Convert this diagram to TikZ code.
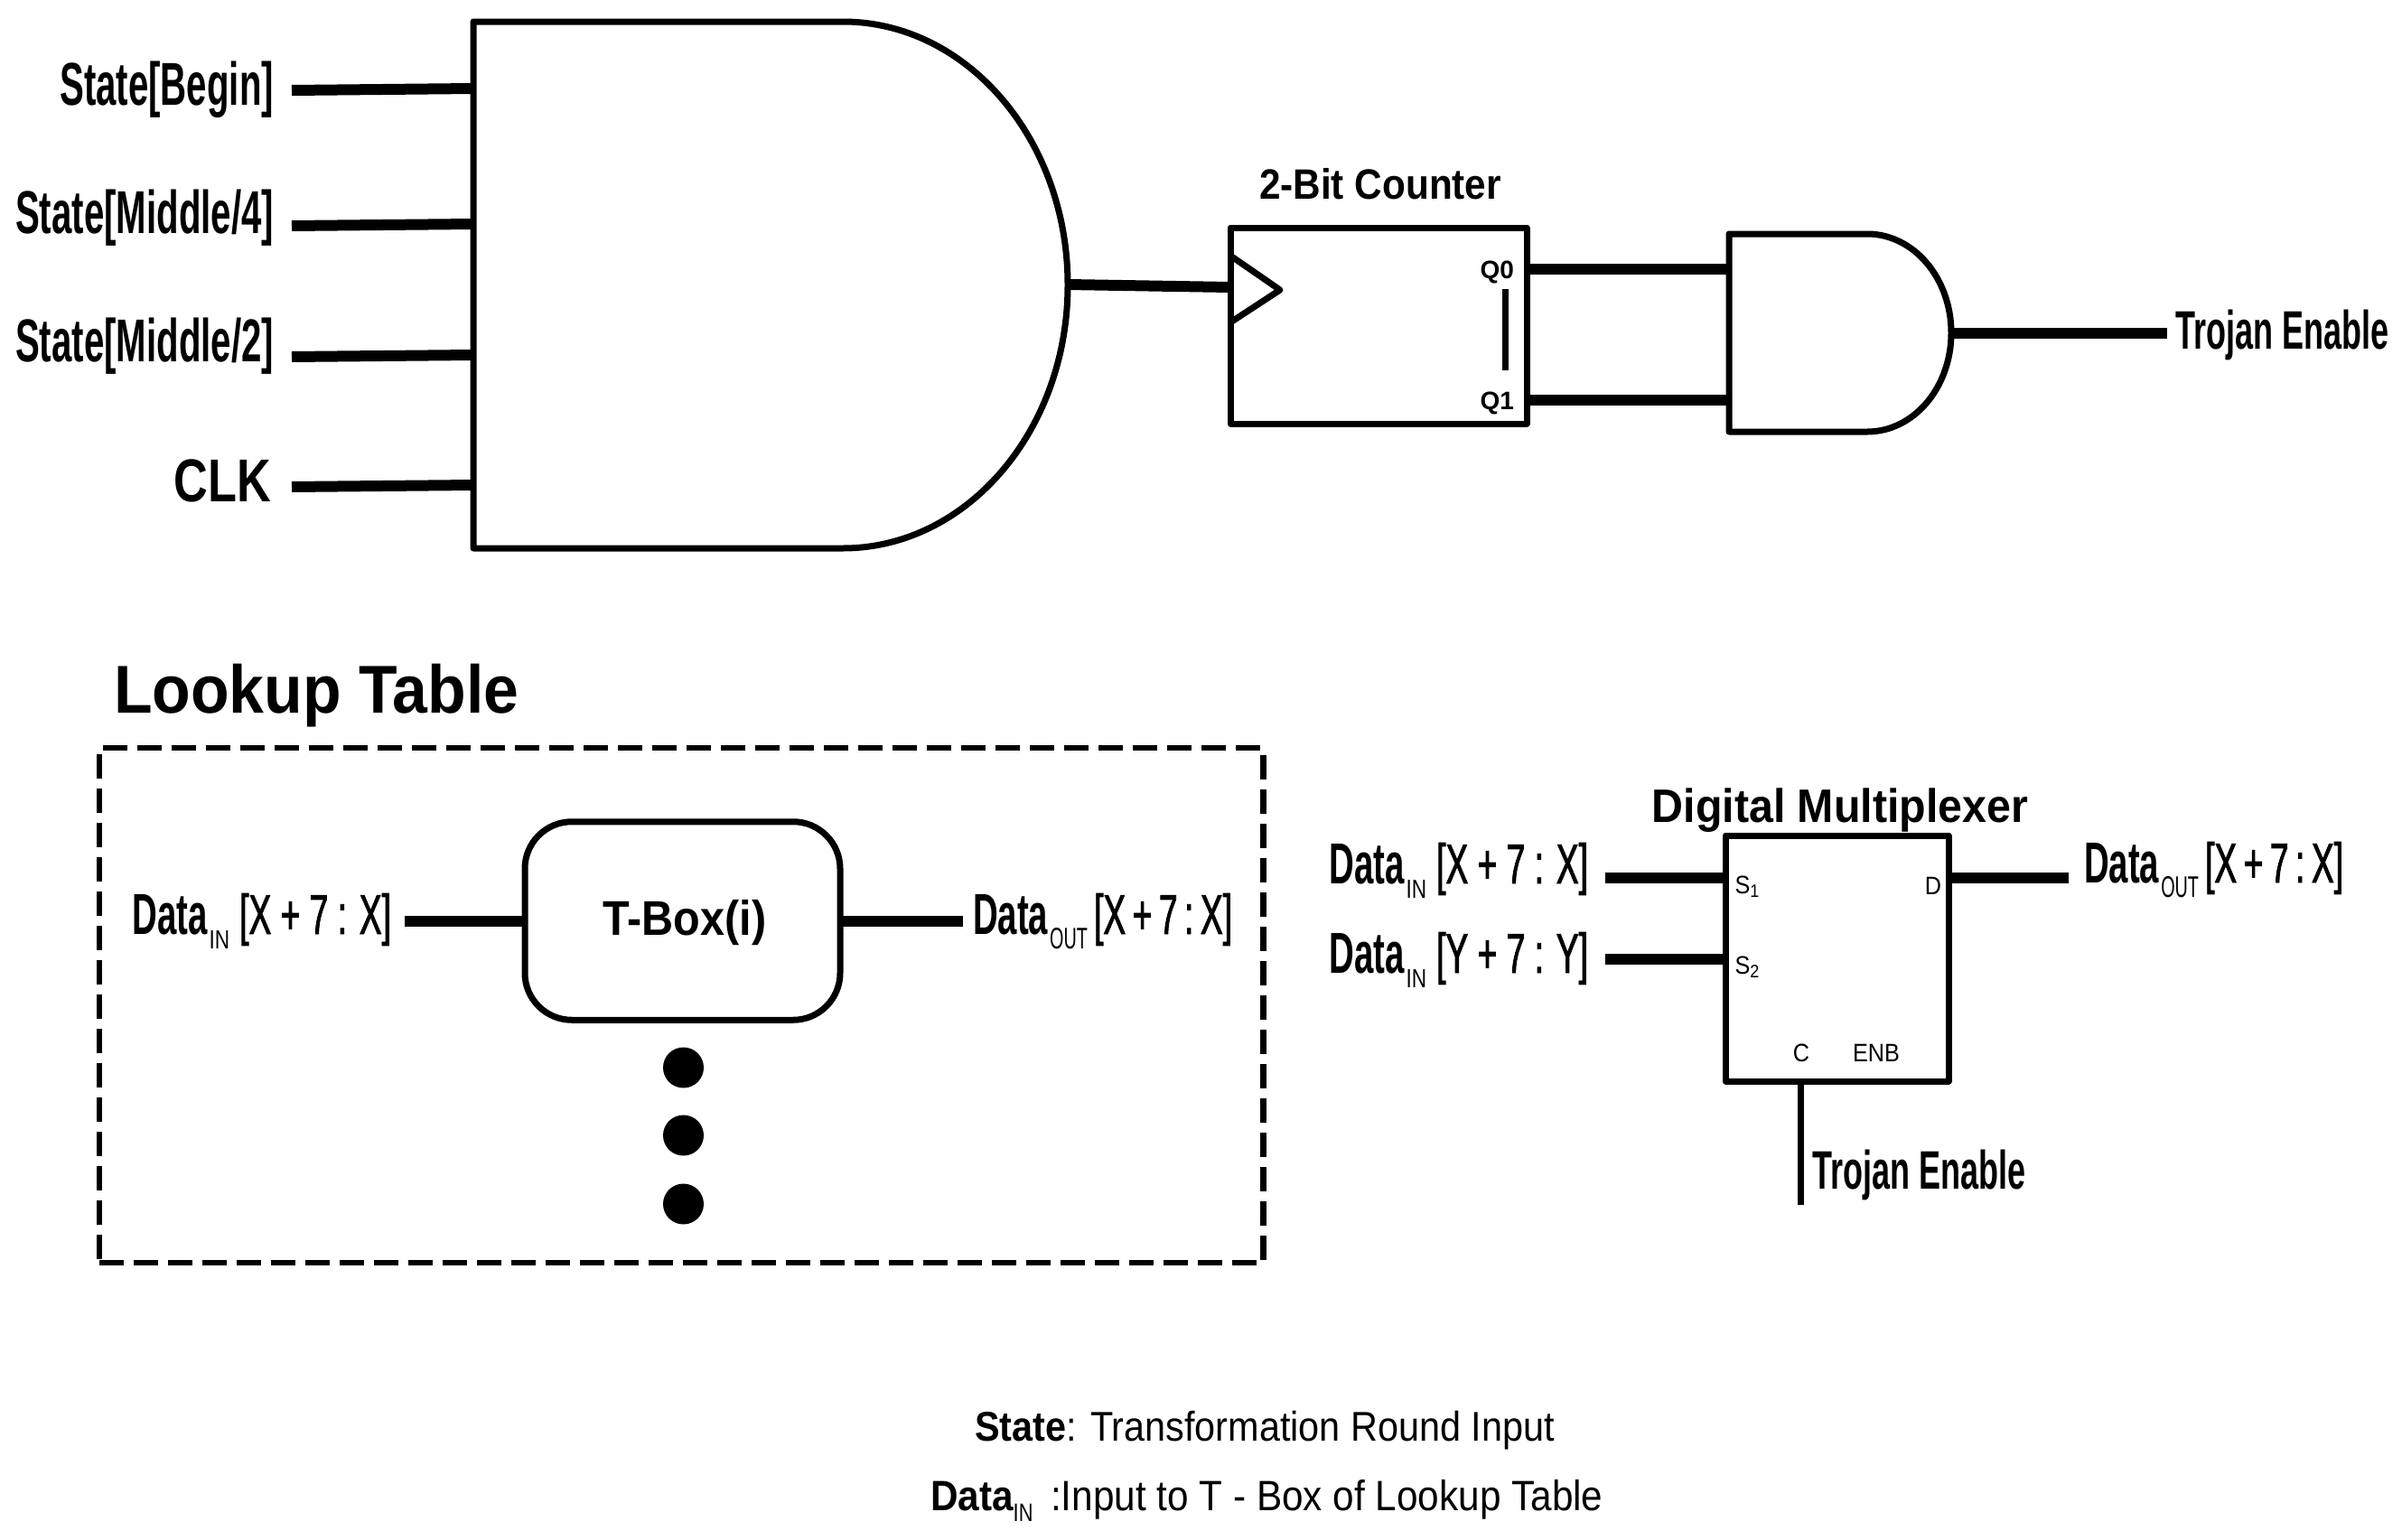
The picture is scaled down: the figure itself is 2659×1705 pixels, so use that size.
\documentclass[tikz,border=0pt]{standalone}
\usepackage{fontspec}
\setmainfont{Liberation Sans}
\newfontfamily\narf[FakeStretch=0.6]{Liberation Sans}
\newfontfamily\datf[FakeStretch=0.6,FakeBold=1.4]{Liberation Sans}
\newfontfamily\midf[FakeStretch=0.78]{Liberation Sans}
\newfontfamily\semf[FakeStretch=0.9]{Liberation Sans}
\newfontfamily\titf[FakeStretch=0.93]{Liberation Sans}
\newcommand\fsz[1]{\fontsize{#1}{#1}\selectfont}
\newcommand\dlabel[1]{{\narf\fsz{64}\bfseries Data}\kern2pt\raisebox{-16pt}{\midf\fsz{29}IN}\kern11pt[#1]}
\newcommand\dlabelout[1]{{\narf\fsz{64}\bfseries Data}\kern2pt\raisebox{-16pt}{\narf\fsz{33}OUT}\kern7pt[#1]}
\newcommand\tsp{\kern7.5pt}
\tikzset{
  x=1pt,y=-1pt,
  txt/.style={inner sep=0pt,outer sep=0pt,text=black},
  lab/.style={txt,font=\narf\bfseries\fsz{67}},
  trj/.style={txt,font=\narf\bfseries\fsz{60}},
  dat/.style={txt,font=\datf\fsz{62}},
  pin/.style={txt,font=\semf\fsz{28}},
  qpin/.style={txt,font=\bfseries\fsz{28}},
  gate/.style={draw=black,line width=7pt,line join=round,fill=white},
  box/.style={draw=black,line width=7pt,outer sep=0pt,inner sep=0pt,fill=white,line join=round},
  wire/.style={draw=black,line width=12pt},
  thinwire/.style={draw=black,line width=7pt},
  dashbox/.style={draw=black,line width=6.5pt,dash pattern=on 27pt off 11pt,outer sep=0pt,inner sep=0pt},
  dotn/.style={circle,fill=black,inner sep=0pt,minimum size=45pt,outer sep=0pt}
}
\begin{document}
\begin{tikzpicture}
\useasboundingbox (0,0) rectangle (2659,1705);
% big AND gate
\coordinate (ga1) at (524,98);
\coordinate (ga2) at (524,248);
\coordinate (ga3) at (524,393);
\coordinate (ga4) at (524,537);
\coordinate (gaout) at (1182,315);
\draw[gate] (524,24) -- (933,24)
  .. controls (1070.5,24) and (1182,154.5) .. (1182,315.5)
  .. controls (1182,476.5) and (1070.5,607) .. (933,607) -- (524,607) -- cycle;
% labels left
\node[lab,anchor=base east] (l1) at (303,116) {State[Begin]};
\node[lab,anchor=base east] (l2) at (303,258) {State[Middle/4]};
\node[lab,anchor=base east] (l3) at (303,400) {State[Middle/2]};
\node[txt,font=\midf\bfseries\fsz{67},anchor=base east] (l4) at (300,555) {CLK};
\coordinate (w1) at (323,100);
\coordinate (w2) at (323,250);
\coordinate (w3) at (323,395);
\coordinate (w4) at (323,539);
\draw[wire] (w1) -- (ga1);
\draw[wire] (w2) -- (ga2);
\draw[wire] (w3) -- (ga3);
\draw[wire] (w4) -- (ga4);
% counter
\node[box,minimum width=328pt,minimum height=217pt] (cnt) at (1526,360.5) {};
\node[txt,font=\semf\bfseries\fsz{47},anchor=base] (cntt) at (1528,220) {2-Bit Counter};
\coordinate (clkp) at (1362,318);
\draw[wire] (gaout) -- (clkp);
\draw[draw=black,line width=7pt,line join=round] (1362,283) -- (1417,321) -- (1362,357);
\node[qpin,anchor=base east] (q0) at (1676,308) {Q0};
\node[qpin,anchor=base east] (q1) at (1676,453) {Q1};
\coordinate (b1) at (1666,320);
\coordinate (b2) at (1666,410);
\draw[thinwire] (b1) -- (b2);
% small AND
\coordinate (gb1) at (1914,298);
\coordinate (gb2) at (1914,443);
\coordinate (gbout) at (2160,369);
\coordinate (q0r) at (1690,298);
\coordinate (q1r) at (1690,443);
\draw[gate] (1914,259) -- (2067,259)
  .. controls (2118.4,259) and (2160,308) .. (2160,368.5)
  .. controls (2160,429) and (2118.4,478) .. (2067,478) -- (1914,478) -- cycle;
\draw[wire] (q0r) -- (gb1);
\draw[wire] (q1r) -- (gb2);
\coordinate (te) at (2399,369);
\draw[wire] (gbout) -- (te);
\node[trj,anchor=base west] (tel) at (2408,386) {Trojan Enable};
% lookup table
\node[txt,font=\titf\bfseries\fsz{75},anchor=base west] (lt) at (126,789) {Lookup Table};
\node[dashbox,minimum width=1288.5pt,minimum height=570pt] (lbox) at (754,1113) {};
\node[box,rounded corners=52pt,minimum width=349pt,minimum height=219.5pt] (tb) at (755.5,1019.5) {};
\node[txt,font=\semf\bfseries\fsz{54},anchor=base] (tbt) at (758,1035) {T-Box(i)};
\node[dat,anchor=base east] (din) at (433,1034) {\dlabel{X + 7 : X}};
\node[dat,anchor=base west] (dout) at (1077,1034) {\dlabelout{X\tsp+\tsp7\tsp:\tsp X}};
\coordinate (din1) at (448,1019.5);
\coordinate (dout1) at (1066,1019.5);
\draw[wire] (din1) -- (tb.west);
\draw[wire] (tb.east) -- (dout1);
\node[dotn] (d1) at (756.5,1182) {};
\node[dotn] (d2) at (756.5,1257) {};
\node[dotn] (d3) at (756.5,1333) {};
% mux
\node[box,minimum width=247pt,minimum height=272pt] (mx) at (2033.5,1061) {};
\node[txt,font=\titf\bfseries\fsz{52},anchor=base] (mxt) at (2037,910) {Digital Multiplexer};
\coordinate (m1) at (1777,972);
\coordinate (m2) at (1777,1062);
\coordinate (m3) at (2290,972);
\coordinate (ms1) at (1910,972);
\coordinate (ms2) at (1910,1062);
\coordinate (md) at (2157,972);
\coordinate (mc) at (1993,1197);
\coordinate (mc2) at (1993,1334);
\draw[wire] (m1) -- (ms1);
\draw[wire] (m2) -- (ms2);
\draw[wire] (md) -- (m3);
\draw[thinwire] (mc) -- (mc2);
\node[dat,anchor=base east] (x1) at (1758,978) {\dlabel{X + 7 : X}};
\node[dat,anchor=base east] (x2) at (1758,1077) {\dlabel{Y + 7 : Y}};
\node[dat,anchor=base west] (x3) at (2307,977) {\dlabelout{X\tsp+\tsp7\tsp:\tsp X}};
\node[pin,anchor=base west] (s1) at (1920.5,989) {S\raisebox{-4pt}{\fsz{20}1}};
\node[pin,anchor=base west] (s2) at (1920.5,1078) {S\raisebox{-4pt}{\fsz{20}2}};
\node[pin,anchor=base east] (dd) at (2149,990) {D};
\node[pin,anchor=base] (cc) at (1994,1175) {C};
\node[pin,anchor=base] (enb) at (2077,1175) {ENB};
\node[trj,anchor=base west] (te2) at (2006,1316) {Trojan Enable};
% legend
\node[txt,font=\semf\fsz{46},anchor=base west] (lg1) at (1079,1595) {{\bfseries State}: Transformation Round Input};
\node[txt,font=\semf\fsz{47},anchor=base west] (lg2) at (1030,1672) {{\bfseries Data}\raisebox{-12pt}{\midf\fsz{28}IN}\, :Input to T - Box of Lookup Table};
\end{tikzpicture}
\end{document}
